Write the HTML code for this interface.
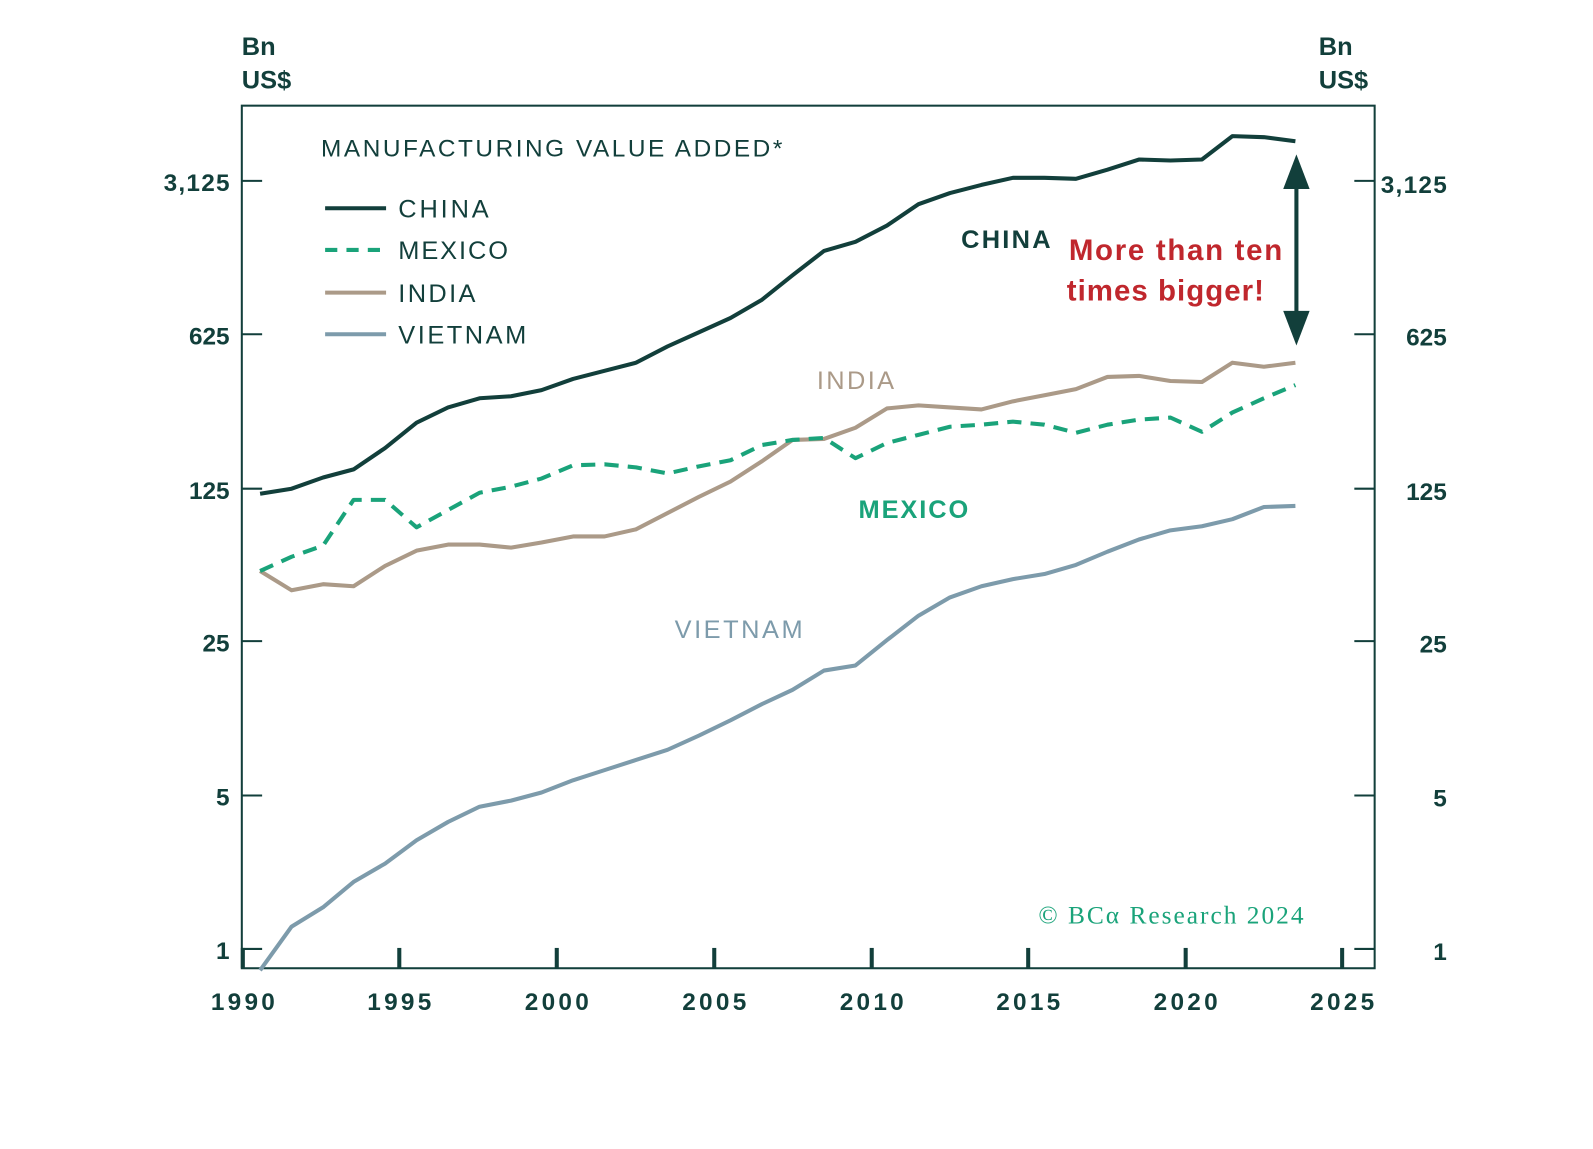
<!DOCTYPE html>
<html><head><meta charset="utf-8"><style>
body{margin:0;background:#fff;}
svg text{font-family:"Liberation Sans",sans-serif;}
</style></head><body>
<svg width="1593" height="1144" xmlns="http://www.w3.org/2000/svg">
<rect width="1593" height="1144" fill="#fff"/>
<g transform="scale(1.016)">
<g fill="#123f3b" font-size="25" font-weight="bold">
<text x="238" y="54">Bn</text><text x="238" y="87">US$</text>
<text x="1298" y="54">Bn</text><text x="1298" y="87">US$</text>
</g>
<rect x="238" y="104" width="1115" height="849" fill="none" stroke="#123f3b" stroke-width="2"/>
<g stroke="#123f3b" stroke-width="2">
<line x1="238" y1="178" x2="258" y2="178"/><line x1="238" y1="329" x2="258" y2="329"/><line x1="238" y1="481" x2="258" y2="481"/><line x1="238" y1="631" x2="258" y2="631"/><line x1="238" y1="783" x2="258" y2="783"/><line x1="238" y1="934" x2="258" y2="934"/>
<line x1="1333" y1="178" x2="1353" y2="178"/><line x1="1333" y1="329" x2="1353" y2="329"/><line x1="1333" y1="481" x2="1353" y2="481"/><line x1="1333" y1="631" x2="1353" y2="631"/><line x1="1333" y1="783" x2="1353" y2="783"/><line x1="1333" y1="934" x2="1353" y2="934"/>
</g>
<g stroke="#123f3b" stroke-width="4">
<line x1="239" y1="933" x2="239" y2="953"/><line x1="393" y1="933" x2="393" y2="953"/><line x1="548" y1="933" x2="548" y2="953"/><line x1="703" y1="933" x2="703" y2="953"/><line x1="858" y1="933" x2="858" y2="953"/><line x1="1012" y1="933" x2="1012" y2="953"/><line x1="1167" y1="933" x2="1167" y2="953"/><line x1="1321" y1="933" x2="1321" y2="953"/>
</g>
<g fill="#123f3b" font-size="24" font-weight="bold" text-anchor="end">
<text x="226" y="188" textLength="65">3,125</text><text x="226" y="339">625</text><text x="226" y="491">125</text><text x="226" y="641">25</text><text x="226" y="793">5</text><text x="226" y="944">1</text>
</g>
<g fill="#123f3b" font-size="24" font-weight="bold" text-anchor="end">
<text x="1424" y="190" textLength="65">3,125</text><text x="1424" y="340">625</text><text x="1424" y="492">125</text><text x="1424" y="642">25</text><text x="1424" y="794">5</text><text x="1424" y="945">1</text>
</g>
<g fill="#123f3b" font-size="24" font-weight="bold" text-anchor="middle">
<text x="239" y="994" textLength="63">1990</text><text x="393" y="994" textLength="63">1995</text><text x="548" y="994" textLength="63">2000</text><text x="703" y="994" textLength="63">2005</text><text x="858" y="994" textLength="63">2010</text><text x="1012" y="994" textLength="63">2015</text><text x="1167" y="994" textLength="63">2020</text><text x="1321" y="994" textLength="63">2025</text>
</g>
<g fill="none" stroke-width="4" stroke-linejoin="round">
<polyline stroke="#7d9bab" points="256,955 287,912 318,893 348,868 379,850 410,827 441,809 472,794 503,788 533,780 564,768 595,758 626,748 657,738 688,724 719,709 750,693 780,679 811,660 842,655 873,630 904,606 935,588 966,577 997,570 1028,565 1059,556 1090,543 1121,531 1152,522 1183,518 1213,511 1244,499 1275,498"/>
<polyline stroke="#ab9a88" points="256,562 287,581 318,575 348,577 379,557 410,542 441,536 472,536 503,539 533,534 564,528 595,528 626,521 657,505 688,489 719,474 750,454 780,433 811,432 842,421 873,402 904,399 935,401 966,403 997,395 1028,389 1059,383 1090,371 1121,370 1152,375 1183,376 1213,357 1244,361 1275,357"/>
<polyline stroke="#1aa37a" stroke-dasharray="14,9" points="256,562 287,548 318,537 348,492 379,492 410,519 441,502 472,485 503,479 533,471 564,458 595,457 626,460 657,466 688,459 719,453 750,438 780,433 811,431 842,451 873,436 904,428 935,420 966,418 997,415 1028,418 1059,426 1090,418 1121,413 1152,411 1183,425 1213,406 1244,392 1275,379"/>
<polyline stroke="#123f3b" points="256,486 287,481 318,470 348,462 379,441 410,416 441,401 472,392 503,390 533,384 564,373 595,365 626,357 657,341 688,327 719,313 750,295 780,271 811,247 842,238 873,222 904,201 935,190 966,182 997,175 1028,175 1059,176 1090,167 1121,157 1152,158 1183,157 1213,134 1244,135 1275,139"/>
</g>
<text x="316" y="154" font-size="24" fill="#123f3b" textLength="454">MANUFACTURING VALUE ADDED*</text>
<g stroke-width="4">
<line x1="320" y1="205" x2="380" y2="205" stroke="#123f3b"/>
<line x1="320" y1="246" x2="380" y2="246" stroke="#1aa37a" stroke-dasharray="12,9"/>
<line x1="320" y1="288" x2="380" y2="288" stroke="#ab9a88"/>
<line x1="320" y1="329" x2="380" y2="329" stroke="#7d9bab"/>
</g>
<g fill="#123f3b" font-size="25">
<text x="392" y="214" textLength="89">CHINA</text><text x="392" y="255" textLength="108">MEXICO</text><text x="392" y="297" textLength="76">INDIA</text><text x="392" y="338" textLength="126">VIETNAM</text>
</g>
<text x="946" y="244" font-size="25" font-weight="bold" fill="#123f3b" textLength="88">CHINA</text>
<text x="804" y="383" font-size="25" fill="#ab9a88" textLength="76">INDIA</text>
<text x="845" y="510" font-size="25" font-weight="bold" fill="#1aa37a" textLength="108">MEXICO</text>
<text x="664" y="628" font-size="25" fill="#7d9bab" textLength="126">VIETNAM</text>
<g fill="#c0272d" font-size="29" font-weight="bold">
<text x="1052" y="256" textLength="210">More than ten</text><text x="1050" y="296" textLength="194">times bigger!</text>
</g>
<line x1="1276" y1="180" x2="1276" y2="310" stroke="#123f3b" stroke-width="4"/>
<polygon points="1276,152 1263,186 1289,186" fill="#123f3b"/>
<polygon points="1276,340 1263,306 1289,306" fill="#123f3b"/>
<text x="1022" y="909" font-size="25" fill="#1aa37a" style="font-family:'Liberation Serif',serif" textLength="261">© BCα Research 2024</text>
</g>
</svg>
</body></html>
